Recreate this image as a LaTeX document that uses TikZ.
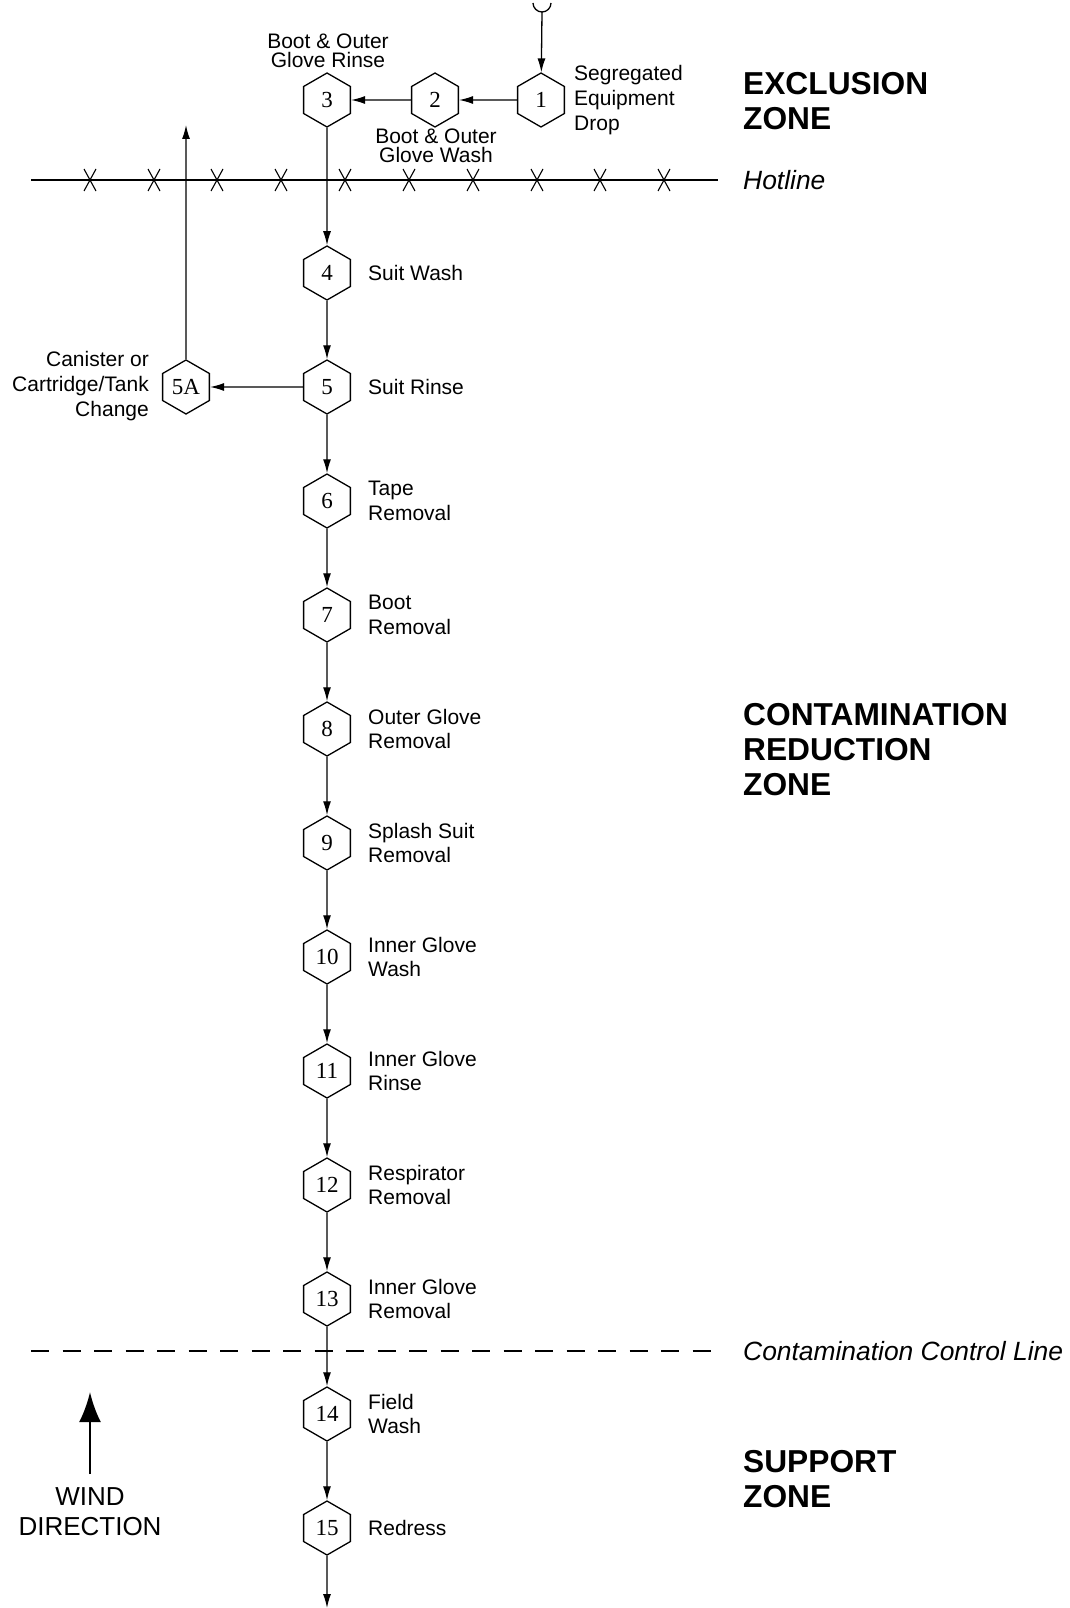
\documentclass[tikz,border=0pt]{standalone}
\usepackage{fontspec}
\setmainfont{Liberation Sans}
\newfontfamily\numfont{Liberation Serif}
\usetikzlibrary{shapes.geometric,arrows.meta}

\tikzset{
  hexstep/.style={regular polygon, regular polygon sides=6, shape border rotate=90,
    draw, line width=1.3pt, inner sep=0pt, minimum size=54pt,
    font=\numfont\fontsize{23}{23}\selectfont},
  flow/.style={line width=1.3pt, -{Latex[length=14pt,width=8pt]}},
  plain/.style={line width=1.3pt},
  lbl/.style={font=\fontsize{21}{24.6}\selectfont, align=left, anchor=west, inner sep=0pt},
  zone/.style={font=\bfseries\fontsize{31.7}{35}\selectfont, align=left, anchor=west, inner sep=0pt},
  linelbl/.style={font=\itshape\fontsize{26.4}{30}\selectfont, anchor=west, inner sep=0pt},
  xmark/.style={line width=1.1pt}
}

\begin{document}
\begin{tikzpicture}[x=1pt,y=-1pt]
\useasboundingbox (0,0) rectangle (1070,1608);

% hotline with crosses
\draw[line width=1.8pt] (31,180) -- (718,180);
\foreach \cx in {90,154,217,281,345,409,473,537,600,664}
  \draw[xmark] (\cx-6,169) -- (\cx+6,191) (\cx+6,169) -- (\cx-6,191);

% contamination control line
\draw[line width=1.6pt, dash pattern=on 18pt off 13.5pt] (31,1351) -- (718,1351);

% stations
\node[hexstep] (s1) at (541,100) {1};
\node[hexstep] (s2) at (435,100) {2};
\node[hexstep] (s3) at (327,100) {3};
\node[hexstep] (s4) at (327,273) {4};
\node[hexstep] (s5) at (327,387) {5};
\node[hexstep] (s5a) at (186,387) {5A};
\node[hexstep] (s6) at (327,501) {6};
\node[hexstep] (s7) at (327,615) {7};
\node[hexstep] (s8) at (327,729) {8};
\node[hexstep] (s9) at (327,843) {9};
\node[hexstep] (s10) at (327,957) {10};
\node[hexstep] (s11) at (327,1071) {11};
\node[hexstep] (s12) at (327,1185) {12};
\node[hexstep] (s13) at (327,1299) {13};
\node[hexstep] (s14) at (327,1414) {14};
\node[hexstep] (s15) at (327,1528) {15};

% entry and exit points
\coordinate (entry) at (542,12);
\coordinate (exit) at (327,1608);
\coordinate (backin) at (186,125);
\draw[plain] (533,3) arc[start angle=180, end angle=360, radius=9pt];

% flow connectors
\draw[flow] (entry) -- (s1);
\draw[flow] (s1) -- (s2);
\draw[flow] (s2) -- (s3);
\draw[flow] (s3) -- (s4);
\draw[flow] (s4) -- (s5);
\draw[flow] (s5) -- (s5a);
\draw[flow] (s5a) -- (backin);
\draw[flow] (s5) -- (s6);
\draw[flow] (s6) -- (s7);
\draw[flow] (s7) -- (s8);
\draw[flow] (s8) -- (s9);
\draw[flow] (s9) -- (s10);
\draw[flow] (s10) -- (s11);
\draw[flow] (s11) -- (s12);
\draw[flow] (s12) -- (s13);
\draw[flow] (s13) -- (s14);
\draw[flow] (s14) -- (s15);
\draw[flow] (s15) -- (exit);

% station labels
\node[lbl] (t1) at (574,100) {Segregated\\Equipment\\Drop};
\node[font=\fontsize{21}{19.5}\selectfont, align=center, inner sep=0pt] (t3) at (328,51) {Boot \& Outer\\Glove Rinse};
\node[font=\fontsize{21}{19.5}\selectfont, align=center, inner sep=0pt] (t2) at (436,146) {Boot \& Outer\\Glove Wash};
\node[lbl] (t4) at (368,273) {Suit Wash};
\node[lbl] (t5) at (368,387) {Suit Rinse};
\node[lbl, anchor=east, align=right] (t5a) at (149,386) {Canister or\\Cartridge/Tank\\Change};
\node[lbl] (t6) at (368,501) {Tape\\Removal};
\node[lbl] (t7) at (368,615) {Boot\\Removal};
\node[lbl] (t8) at (368,729) {Outer Glove\\Removal};
\node[lbl] (t9) at (368,843) {Splash Suit\\Removal};
\node[lbl] (t10) at (368,957) {Inner Glove\\Wash};
\node[lbl] (t11) at (368,1071) {Inner Glove\\Rinse};
\node[lbl] (t12) at (368,1185) {Respirator\\Removal};
\node[lbl] (t13) at (368,1299) {Inner Glove\\Removal};
\node[lbl] (t14) at (368,1414) {Field\\Wash};
\node[lbl] (t15) at (368,1528) {Redress};

% zone names and boundary names
\node[zone] (zx) at (743,101) {EXCLUSION\\ZONE};
\node[zone] (zc) at (743,750) {CONTAMINATION\\REDUCTION\\ZONE};
\node[zone] (zs) at (743,1479) {SUPPORT\\ZONE};
\node[linelbl] (hot) at (743,180) {Hotline};
\node[linelbl] (ccl) at (743,1351) {Contamination Control Line};

% wind direction
\coordinate (wtail) at (90,1474);
\coordinate (whead) at (90,1392);
\draw[line width=2.7pt, -{Latex[length=30pt,width=22pt]}] (wtail) -- (whead);
\node[font=\fontsize{26}{30}\selectfont, align=center, inner sep=0pt] (wind) at (90,1512) {WIND\\DIRECTION};
\end{tikzpicture}
\end{document}
